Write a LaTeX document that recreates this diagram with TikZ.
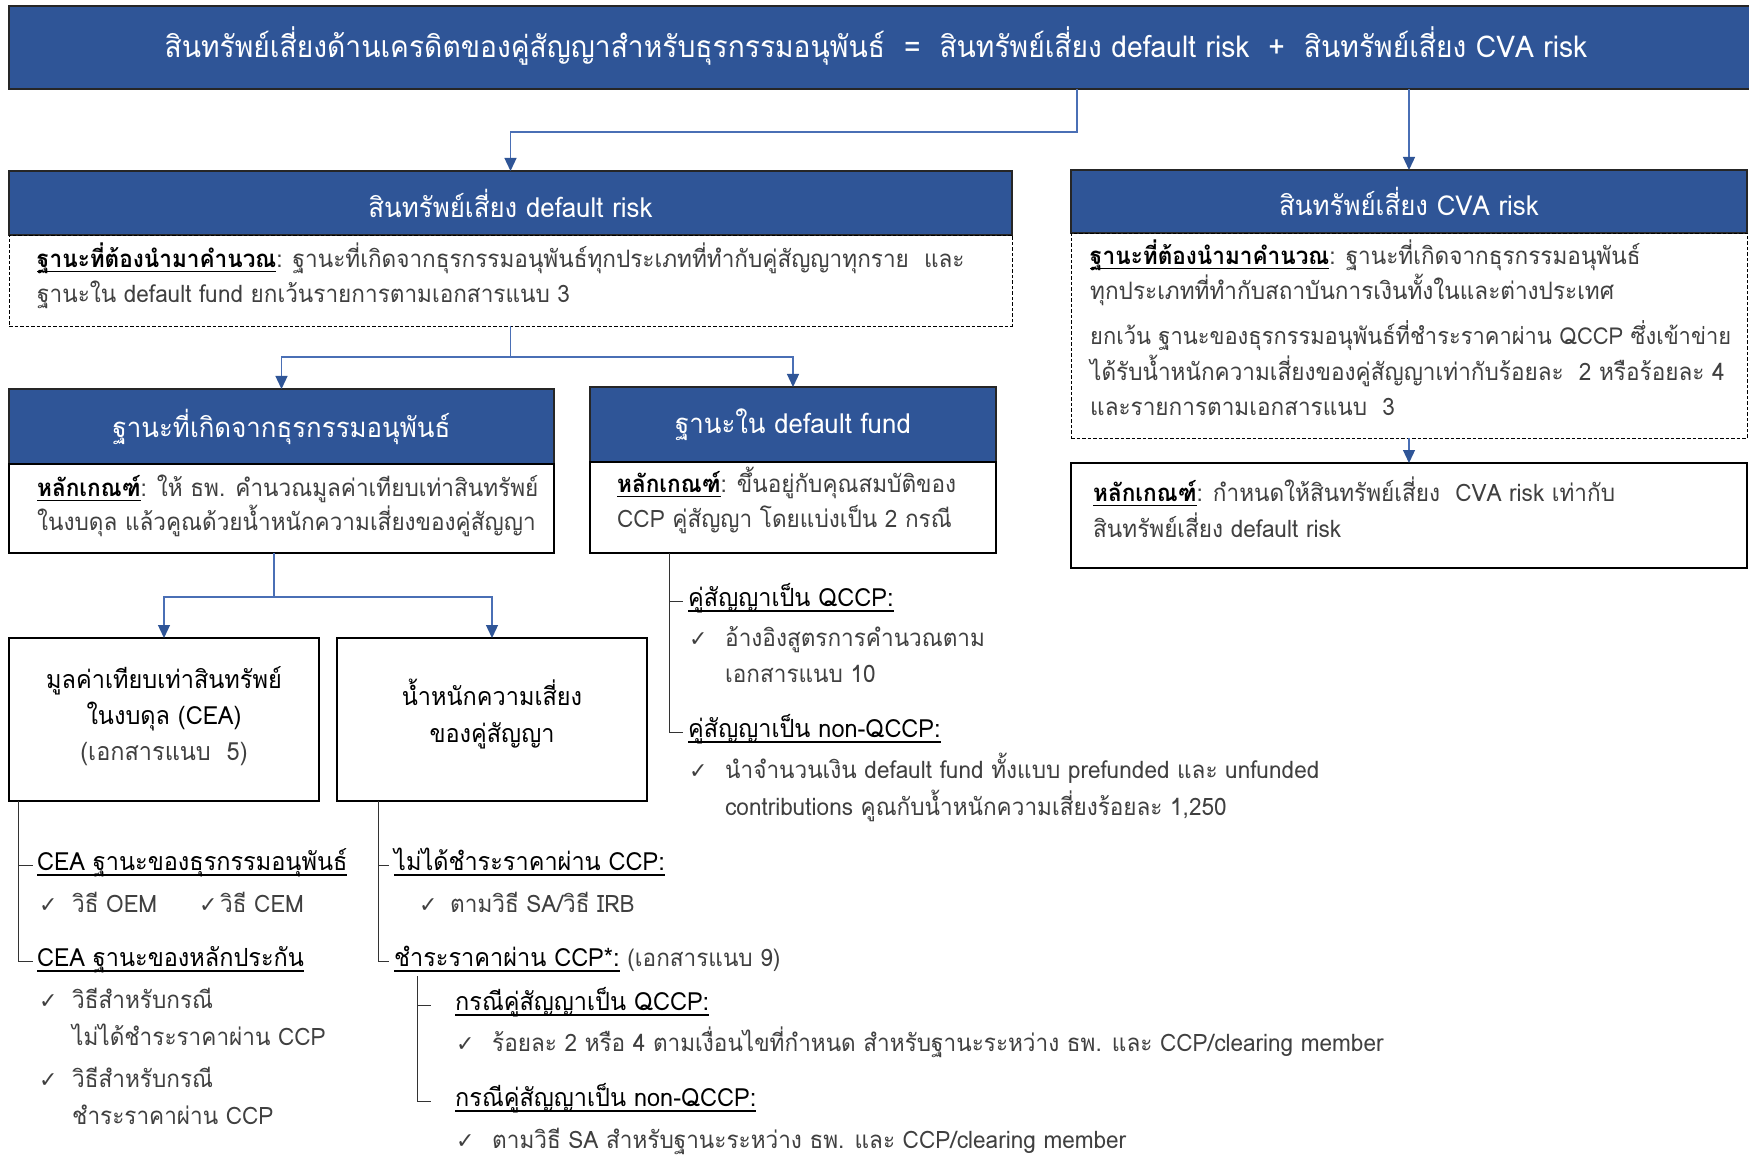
\documentclass[tikz,border=0pt]{standalone}
\usepackage{fontspec}
\setmainfont[Script=Thai,FakeStretch=0.94]{Loma}
\newfontfamily\symf{DejaVu Sans}
\usetikzlibrary{arrows.meta}
\definecolor{hblue}{HTML}{2F5597}
\definecolor{lblue}{HTML}{4A6FB5}
\definecolor{txtg}{HTML}{404040}
\newcommand\myul[1]{\setbox0=\hbox{#1}\rlap{\rule[-0.2em]{\wd0}{0.06em}}\box0}
\newcommand\ck{{\symf\fontsize{22}{24}\selectfont ✓}}
\begin{document}
\begin{tikzpicture}[x=1pt,y=-1pt,
  hdr/.style={draw=black!85, line width=1.2pt, fill=hblue, text=white,
    font=\fontsize{27.5}{32}\selectfont, anchor=north west, inner sep=0pt, outer sep=0pt},
  bodybox/.style={draw=black, line width=1.6pt, fill=white, anchor=north west, inner sep=0pt, outer sep=0pt},
  dbox/.style={draw=black, line width=0.9pt, dash pattern=on 3.5pt off 2pt, anchor=north west, inner sep=0pt, outer sep=0pt},
  conn/.style={draw=lblue, line width=1.3pt, -{Triangle[width=12pt,length=13pt,color=hblue]}},
  tree/.style={draw=black!80, line width=1pt},
  txt/.style={anchor=west, inner sep=0pt, text=txtg, font=\fontsize{24}{28}\selectfont, text height=17pt, text depth=6pt},
  ctxt/.style={txt, anchor=center, font=\fontsize{25}{29}\selectfont},
  head/.style={txt, text=black, font=\fontsize{25}{29}\selectfont},
  cktxt/.style={anchor=west, inner sep=0pt, text=txtg, text height=17pt, text depth=6pt}
]
\useasboundingbox (0,0) rectangle (1749,1158);
\fill[white] (0,0) rectangle (1749,1158);

% banner
\node[hdr, minimum width=1745pt, minimum height=83pt] (banner) at (9,6) {};
\node[text=white, font=\fontsize{30}{34}\selectfont, inner sep=0pt] (bannertxt) at (876,46)
  {สินทรัพย์เสี่ยงด้านเครดิตของคู่สัญญาสำหรับธุรกรรมอนุพันธ์\ \ =\ \ สินทรัพย์เสี่ยง default risk\ \ +\ \ สินทรัพย์เสี่ยง CVA risk};

% default risk
\node[hdr, minimum width=1003pt, minimum height=64pt] (drH) at (9,171) {สินทรัพย์เสี่ยง default risk};
\node[dbox, minimum width=1003pt, minimum height=91pt] (drB) at (9,235) {};
\node[txt] (drB1) at (37,262) {{\color{black}\bfseries\myul{ฐานะที่ต้องนำมาคำนวณ}}: ฐานะที่เกิดจากธุรกรรมอนุพันธ์ทุกประเภทที่ทำกับคู่สัญญาทุกราย\ \ และ};
\node[txt] (drB2) at (37,297) {ฐานะใน default fund ยกเว้นรายการตามเอกสารแนบ 3};

% CVA risk
\node[hdr, minimum width=676pt, minimum height=63pt] (cvaH) at (1071,170) {สินทรัพย์เสี่ยง CVA risk};
\node[dbox, minimum width=676pt, minimum height=205pt] (cvaB) at (1071,233) {};
\node[txt] (cvaB1) at (1090,259) {{\color{black}\bfseries\myul{ฐานะที่ต้องนำมาคำนวณ}}: ฐานะที่เกิดจากธุรกรรมอนุพันธ์};
\node[txt] (cvaB2) at (1090,294) {ทุกประเภทที่ทำกับสถาบันการเงินทั้งในและต่างประเทศ};
\node[txt, font=\fontsize{23.3}{27}\selectfont] (cvaB3) at (1090,339) {ยกเว้น ฐานะของธุรกรรมอนุพันธ์ที่ชำระราคาผ่าน\ QCCP ซึ่งเข้าข่าย};
\node[txt] (cvaB4) at (1090,375) {ได้รับน้ำหนักความเสี่ยงของคู่สัญญาเท่ากับร้อยละ\ \ 2 หรือร้อยละ 4};
\node[txt] (cvaB5) at (1090,410) {และรายการตามเอกสารแนบ\ \ 3};
\node[bodybox, minimum width=676pt, minimum height=105pt, line width=1.2pt] (cvaR) at (1071,463) {};
\node[txt] (cvaR1) at (1093,496) {{\color{black}\bfseries\myul{หลักเกณฑ์}}: กำหนดให้สินทรัพย์เสี่ยง\ \ CVA risk เท่ากับ};
\node[txt] (cvaR2) at (1093,532) {สินทรัพย์เสี่ยง default risk};

% derivative positions
\node[hdr, minimum width=545pt, minimum height=75pt] (dvH) at (9,389) {ฐานะที่เกิดจากธุรกรรมอนุพันธ์};
\node[bodybox, minimum width=545pt, minimum height=89pt] (dvB) at (9,464) {};
\node[txt] (dvB1) at (37,491) {{\color{black}\bfseries\myul{หลักเกณฑ์}}: ให้ ธพ. คำนวณมูลค่าเทียบเท่าสินทรัพย์};
\node[txt] (dvB2) at (37,525) {ในงบดุล แล้วคูณด้วยน้ำหนักความเสี่ยงของคู่สัญญา};

% default fund
\node[hdr, minimum width=406pt, minimum height=75pt] (dfH) at (590,387) {ฐานะใน default fund};
\node[bodybox, minimum width=406pt, minimum height=91pt] (dfB) at (590,462) {};
\node[txt] (dfB1) at (617,487) {{\color{black}\bfseries\myul{หลักเกณฑ์}}: ขึ้นอยู่กับคุณสมบัติของ};
\node[txt] (dfB2) at (617,522) {CCP คู่สัญญา โดยแบ่งเป็น 2 กรณี};

% CEA and RW boxes
\node[bodybox, minimum width=310pt, minimum height=163pt] (cea) at (9,638) {};
\node[ctxt, text=black] (ceaT1) at (164,683) {มูลค่าเทียบเท่าสินทรัพย์};
\node[ctxt, text=black] (ceaT2) at (164,719) {ในงบดุล (CEA)};
\node[ctxt] (ceaT3) at (164,755) {(เอกสารแนบ\ \ 5)};
\node[bodybox, minimum width=310pt, minimum height=163pt] (rw) at (337,638) {};
\node[ctxt, text=black] (rwT1) at (492,700) {น้ำหนักความเสี่ยง};
\node[ctxt, text=black] (rwT2) at (492,737) {ของคู่สัญญา};

% connectors
\coordinate (b1) at (1077,89);
\draw[conn] (b1) -- ++(0,43) -| (drH.north);
\draw[conn] (banner.south -| cvaH.north) -- (cvaH.north);
\draw[conn] (drB.south) -- ++(0,31) -| (dvH.north);
\draw[conn] (drB.south) ++(0,31) -| (dfH.north);
\draw[conn] (cvaB.south) -- (cvaR.north);
\coordinate (d1) at (274,553);
\draw[conn] (d1) -- ++(0,44) -| (cea.north);
\draw[conn] (d1) ++(0,44) -| (rw.north);

% default fund tree
\node[head] (df1) at (688,601) {\myul{คู่สัญญาเป็น QCCP:}};
\node[cktxt] (dfc1) at (689,641) {\ck};
\node[txt] (df1a) at (725,641) {อ้างอิงสูตรการคำนวณตาม};
\node[txt] (df1b) at (725,677) {เอกสารแนบ 10};
\node[head] (df2) at (688,732) {\myul{คู่สัญญาเป็น non-QCCP:}};
\node[cktxt] (dfc2) at (689,773) {\ck};
\node[txt] (df2a) at (725,773) {นำจำนวนเงิน default fund ทั้งแบบ prefunded และ unfunded};
\node[txt] (df2b) at (725,810) {contributions คูณกับน้ำหนักความเสี่ยงร้อยละ 1,250};
\coordinate (t1) at (669,553);
\draw[tree] (t1) |- ([xshift=-5pt]df1.west);
\draw[tree] (t1) |- ([xshift=-5pt]df2.west);

% CEA tree
\node[head] (cea1) at (37,865) {\myul{CEA ฐานะของธุรกรรมอนุพันธ์}};
\node[cktxt] (ceac1) at (39,907) {\ck};
\node[txt] (cea1a) at (72,907) {วิธี OEM};
\node[cktxt] (ceac2) at (199,907) {\ck};
\node[txt] (cea1b) at (220,907) {วิธี CEM};
\node[head] (cea2) at (37,961) {\myul{CEA ฐานะของหลักประกัน}};
\node[cktxt] (ceac3) at (39,1003) {\ck};
\node[txt] (cea2a) at (72,1003) {วิธีสำหรับกรณี};
\node[txt] (cea2b) at (72,1040) {ไม่ได้ชำระราคาผ่าน CCP};
\node[cktxt] (ceac4) at (39,1082) {\ck};
\node[txt] (cea2c) at (72,1082) {วิธีสำหรับกรณี};
\node[txt] (cea2d) at (72,1119) {ชำระราคาผ่าน CCP};
\coordinate (t2) at (18,801);
\draw[tree] (t2) |- ([xshift=-4pt]cea1.west);
\draw[tree] (t2) |- ([xshift=-4pt]cea2.west);

% RW tree
\node[head] (rw1) at (394,865) {\myul{ไม่ได้ชำระราคาผ่าน CCP:}};
\node[cktxt] (rwc1) at (419,907) {\ck};
\node[txt] (rw1a) at (450,907) {ตามวิธี SA/วิธี IRB};
\node[head] (rw2) at (394,961) {\myul{ชำระราคาผ่าน CCP*:}\ {\color{txtg}\fontsize{24}{28}\selectfont(เอกสารแนบ 9)}};
\coordinate (t3) at (378,801);
\draw[tree] (t3) |- ([xshift=-5pt]rw1.west);
\draw[tree] (t3) |- ([xshift=-5pt]rw2.west);

\node[head] (rw2a) at (455,1005) {\myul{กรณีคู่สัญญาเป็น QCCP:}};
\node[cktxt] (rwc2) at (456,1046) {\ck};
\node[txt] (rw2a1) at (492,1046) {ร้อยละ 2 หรือ 4 ตามเงื่อนไขที่กำหนด สำหรับฐานะระหว่าง ธพ. และ CCP/clearing member};
\node[head] (rw2b) at (455,1101) {\myul{กรณีคู่สัญญาเป็น non-QCCP:}};
\node[cktxt] (rwc3) at (456,1143) {\ck};
\node[txt] (rw2b1) at (492,1143) {ตามวิธี SA สำหรับฐานะระหว่าง ธพ. และ CCP/clearing member};
\coordinate (t4) at (417,976);
\draw[tree] (t4) |- ([xshift=-24pt]rw2a.west);
\draw[tree] (t4) |- ([xshift=-24pt]rw2b.west);
\end{tikzpicture}
\end{document}
